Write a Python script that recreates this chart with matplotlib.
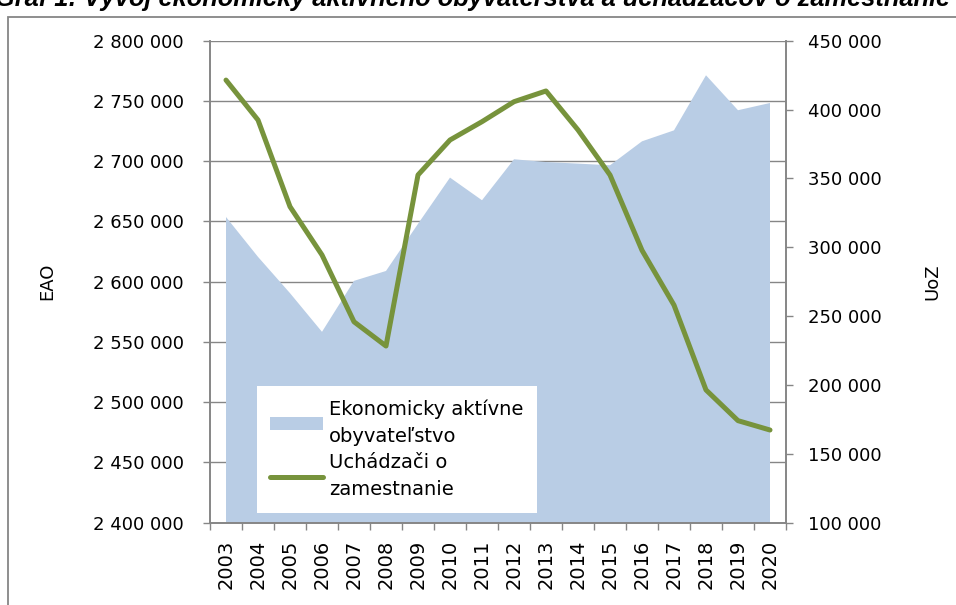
import matplotlib.pyplot as plt
from matplotlib.patches import Rectangle
from matplotlib.ticker import FuncFormatter, FixedLocator

# Data
years = [str(y) for y in range(2003, 2021)]
eao = [2653700, 2620600, 2590500, 2558400, 2600700, 2608900, 2648000, 2686400, 2667600,
       2701600, 2699300, 2698000, 2696600, 2716500, 2725600, 2771300, 2742300, 2748300]
uoz = [421400, 392400, 329500, 294400, 245900, 228300, 352500, 377900, 391200,
       405700, 413500, 385200, 352500, 297800, 258000, 196400, 174100, 167300]

eao_ticks = list(range(2400000, 2800001, 50000))
uoz_ticks = list(range(100000, 450001, 50000))

label_eao = "Ekonomicky aktívne\nobyvateľstvo"
label_uoz = "Uchádzači o\nzamestnanie"
title = "Graf 1: Vývoj ekonomicky aktívneho obyvateľstva a uchádzačov o zamestnanie"

area_color = "#B9CDE5"
line_color = "#77933C"
gray = "#868686"

plt.rcParams['font.family'] = ['DejaVu Sans']

W, H = 956, 605
fig = plt.figure(figsize=(W / 100, H / 100), dpi=100)

# outer frame (top/left visible, rest cut off by the image edge)
fig.patches.append(Rectangle((8 / W, -0.2), 1.5, 1.2 - 17 / H, transform=fig.transFigure,
                             fill=False, edgecolor=gray, lw=1.3, clip_on=False))
# title cut off at the top of the picture
fig.text(-0.005, 1 - 6 / H, title, fontsize=18.3, fontweight='bold', fontstyle='italic',
         family=['Liberation Sans', 'DejaVu Sans'], ha='left', va='baseline')

ax1 = fig.add_axes([210 / W, 1 - 522.7 / H, 576 / W, 482 / H])
ax2 = ax1.twinx()

x = list(range(len(years)))
ax1.fill_between(x, eao, 0, color=area_color, lw=0, label=label_eao, zorder=2)
ax2.plot(x, uoz, color=line_color, lw=3.6, solid_capstyle='round', label=label_uoz)

fmt = FuncFormatter(lambda v, p: f"{v:,.0f}".replace(",", " "))

ax1.set_ylim(2400000, 2800000)
ax1.set_yticks(eao_ticks)
ax1.yaxis.set_major_formatter(fmt)
ax2.set_ylim(100000, 450000)
ax2.set_yticks(uoz_ticks)
ax2.yaxis.set_major_formatter(fmt)

ax1.set_xlim(-0.5, len(years) - 0.5)
ax1.xaxis.set_major_locator(FixedLocator([i - 0.5 for i in range(len(years) + 1)]))
ax1.xaxis.set_minor_locator(FixedLocator(x))
ax1.set_xticklabels([])
ax1.set_xticklabels(years, minor=True, rotation=90)
ax1.tick_params(axis='x', which='major', length=5, width=1, color=gray, direction='out')
ax1.tick_params(axis='x', which='minor', length=0, pad=12, labelsize=14)

ax1.tick_params(axis='y', length=5, width=1, color=gray, pad=14, labelsize=13)
ax2.tick_params(axis='y', length=5, width=1, color=gray, pad=11, labelsize=13)

ax1.set_axisbelow(True)
ax1.grid(axis='y', color=gray, lw=1.0)

for ax in (ax1, ax2):
    ax.spines['top'].set_visible(False)
    for s in ('left', 'right', 'bottom'):
        ax.spines[s].set_color(gray)
        ax.spines[s].set_linewidth(1.2)

ax1.set_ylabel("EAO", fontsize=13)
ax1.yaxis.set_label_coords(-0.267, 0.5)
ax2.set_ylabel("UoZ", fontsize=13)
ax2.yaxis.set_label_coords(1.238, 0.5)

h1, l1 = ax1.get_legend_handles_labels()
h2, l2 = ax2.get_legend_handles_labels()
leg = ax2.legend(h1 + h2, l1 + l2, loc='lower left',
                 bbox_to_anchor=(256.7 / W, (H - 513) / H), bbox_transform=fig.transFigure,
                 borderaxespad=0, fontsize=14, frameon=True, fancybox=False,
                 framealpha=1, edgecolor='none', handlelength=2.7, handletextpad=0.3,
                 labelspacing=0.35, borderpad=0.7)
for t in leg.get_texts():
    t.set_linespacing(1.55)

fig.savefig("out.png", dpi=100)
